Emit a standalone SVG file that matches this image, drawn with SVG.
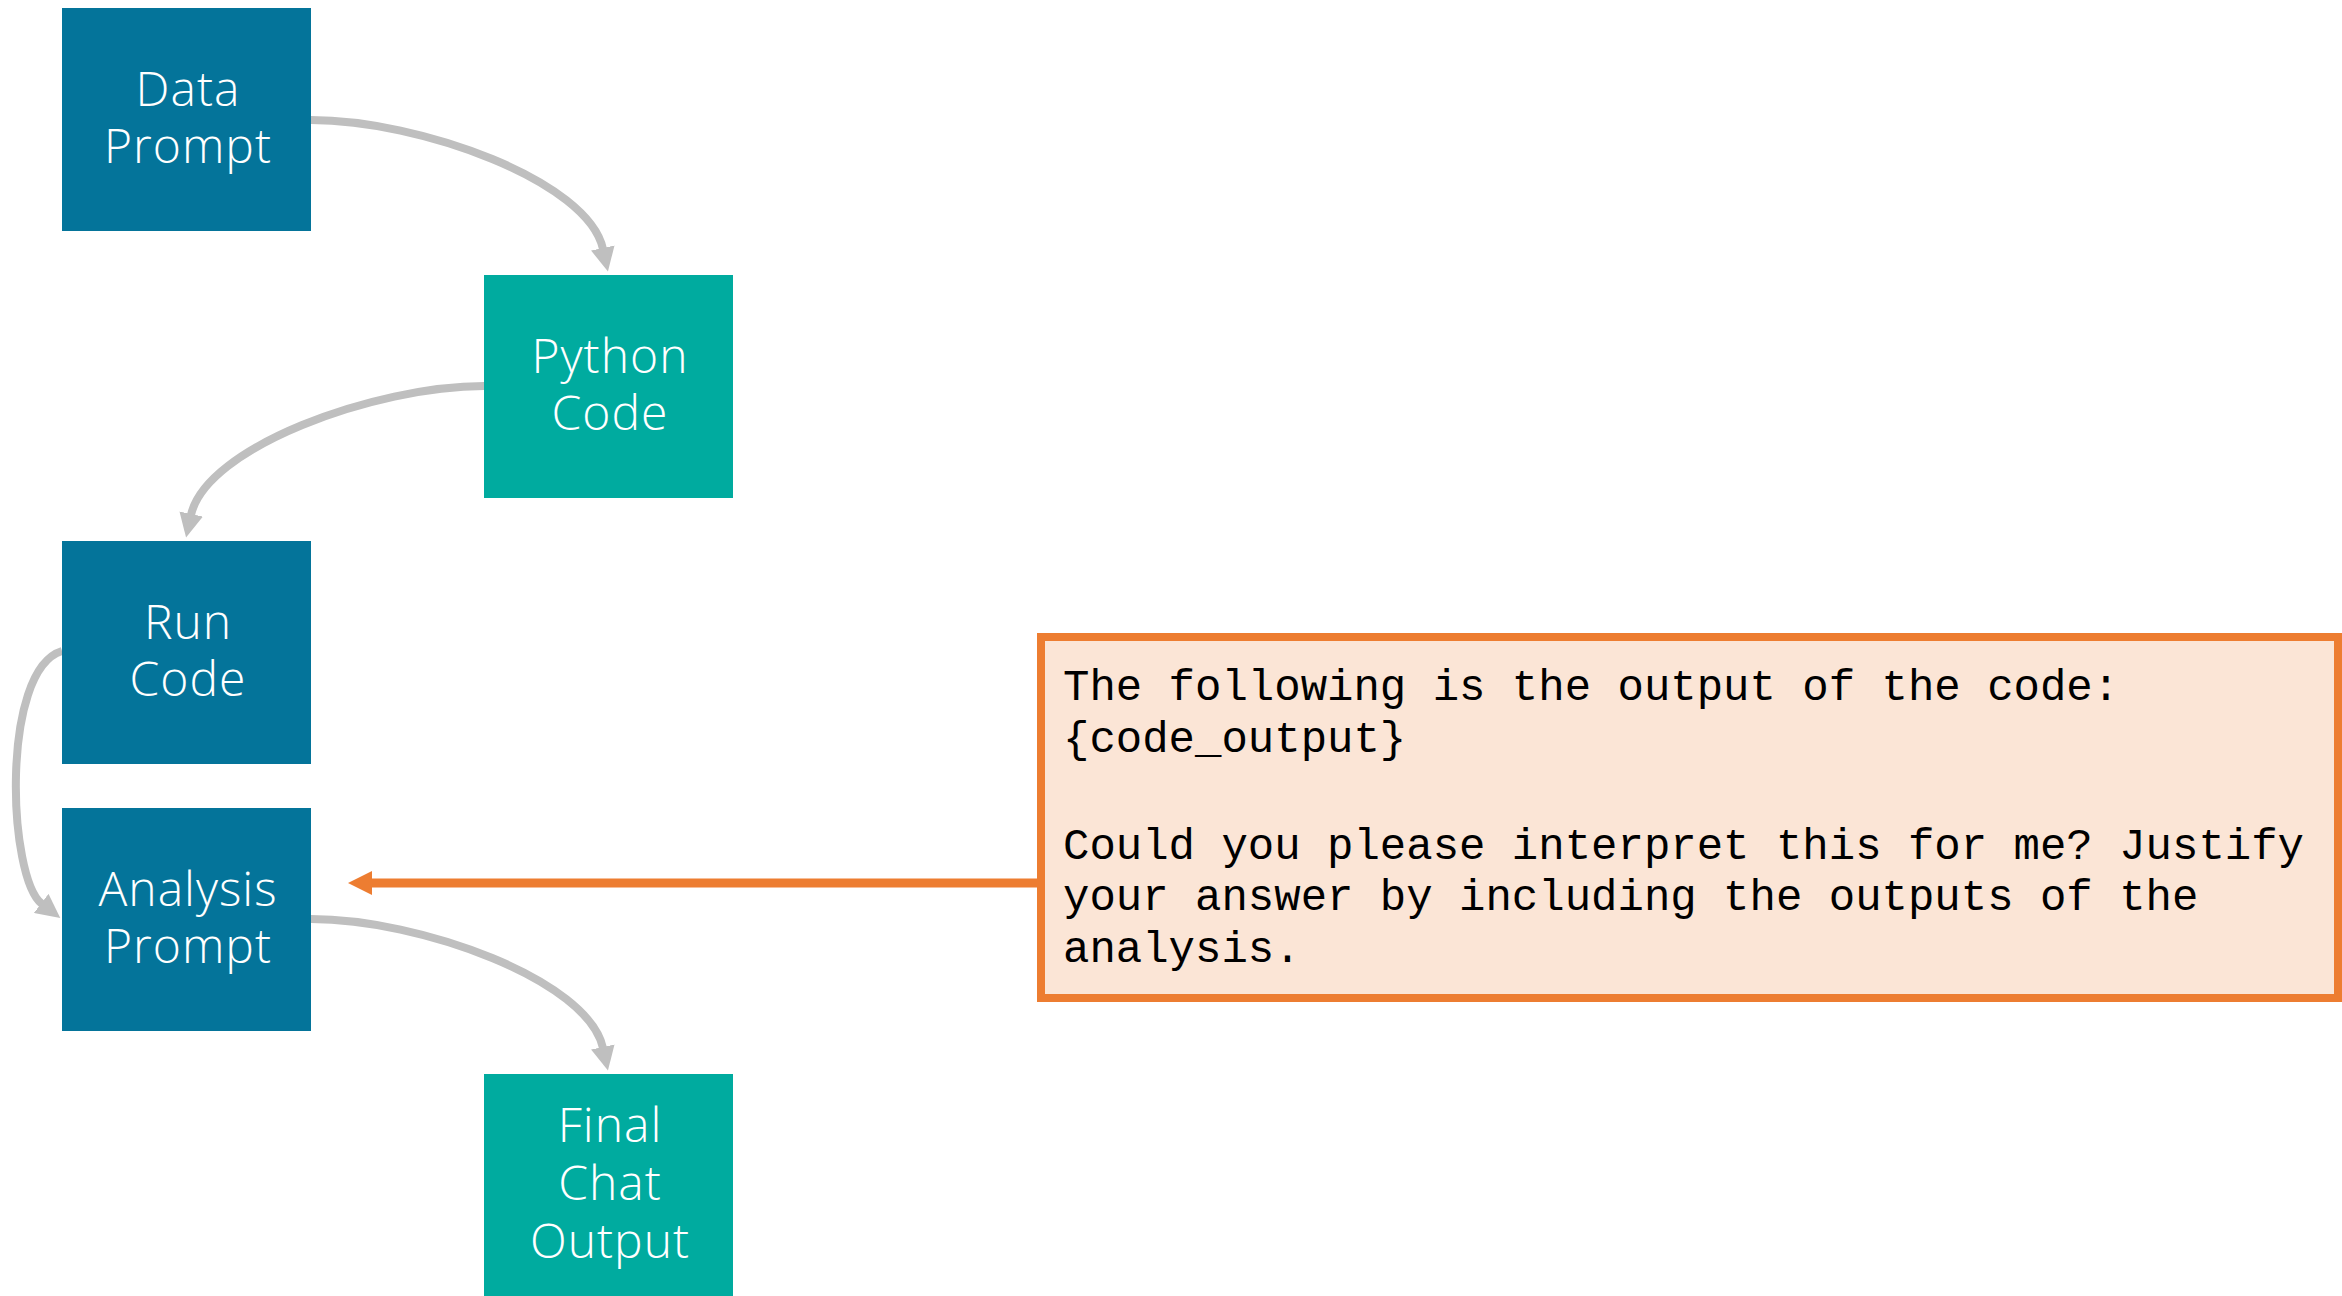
<svg xmlns="http://www.w3.org/2000/svg" width="2342" height="1296" viewBox="0 0 2342 1296">
  <style>
    .blue { fill: #04749A; }
    .teal { fill: #00AB9F; }
    .lbl { font-family: "Open Sans", Lato, "Liberation Sans", sans-serif; font-weight: 300; font-size: 48px; letter-spacing: 1px; fill: #FFFFFF; text-anchor: middle; }
    .conn { fill: none; stroke: #BFBFBF; stroke-width: 8; }
    .oconn { fill: none; stroke: #ED7D31; stroke-width: 9; }
    .note { fill: #FBE5D6; stroke: #ED7D31; stroke-width: 8; }
    .mono { font-family: "Liberation Mono", "Courier New", monospace; font-size: 44px; fill: #000000; }
  </style>
  <defs>
    <marker id="ah-grey" markerUnits="userSpaceOnUse" viewBox="0 -12 24 24" markerWidth="24" markerHeight="24" refX="1" refY="0" orient="auto">
      <path d="M0,-12 L24,0 L0,12 z" fill="#BFBFBF"/>
    </marker>
    <marker id="ah-orange" markerUnits="userSpaceOnUse" viewBox="0 -12 24 24" markerWidth="24" markerHeight="24" refX="1" refY="0" orient="auto">
      <path d="M0,-12 L24,0 L0,12 z" fill="#ED7D31"/>
    </marker>
  </defs>
  <rect width="2342" height="1296" fill="#FFFFFF"/>

  <g id="connectors">
    <path class="conn" d="M311,120 C420,120 588,181 603,249" marker-end="url(#ah-grey)"/>
    <path class="conn" d="M484,386 C375,386 206,447 191,515" marker-end="url(#ah-grey)"/>
    <path class="conn" d="M62,651 C0,670 8,878 42,904" marker-end="url(#ah-grey)"/>
    <path class="conn" d="M311,919 C420,919 588,980 603,1048" marker-end="url(#ah-grey)"/>
    <path class="oconn" d="M1037,883 L371,883" marker-end="url(#ah-orange)"/>
  </g>

  <g id="data-prompt">
    <rect class="blue" x="62" y="8" width="249" height="223"/>
    <text class="lbl"><tspan x="188" y="106">Data</tspan><tspan x="188" y="163">Prompt</tspan></text>
  </g>
  <g id="python-code">
    <rect class="teal" x="484" y="275" width="249" height="223"/>
    <text class="lbl"><tspan x="610" y="373">Python</tspan><tspan x="610" y="430">Code</tspan></text>
  </g>
  <g id="run-code">
    <rect class="blue" x="62" y="541" width="249" height="223"/>
    <text class="lbl"><tspan x="188" y="639">Run</tspan><tspan x="188" y="696">Code</tspan></text>
  </g>
  <g id="analysis-prompt">
    <rect class="blue" x="62" y="808" width="249" height="223"/>
    <text class="lbl"><tspan x="188" y="906">Analysis</tspan><tspan x="188" y="963">Prompt</tspan></text>
  </g>
  <g id="final-chat-output">
    <rect class="teal" x="484" y="1074" width="249" height="223"/>
    <text class="lbl"><tspan x="610" y="1142">Final</tspan><tspan x="610" y="1200">Chat</tspan><tspan x="610" y="1258">Output</tspan></text>
  </g>
  <g id="analysis-prompt-text">
    <rect class="note" x="1041" y="637" width="1297" height="361"/>
    <text class="mono"><tspan x="1063" y="700">The following is the output of the code:</tspan><tspan x="1063" y="752">{code_output}</tspan><tspan x="1063" y="859">Could you please interpret this for me? Justify</tspan><tspan x="1063" y="910">your answer by including the outputs of the</tspan><tspan x="1063" y="962">analysis.</tspan></text>
  </g>
</svg>
